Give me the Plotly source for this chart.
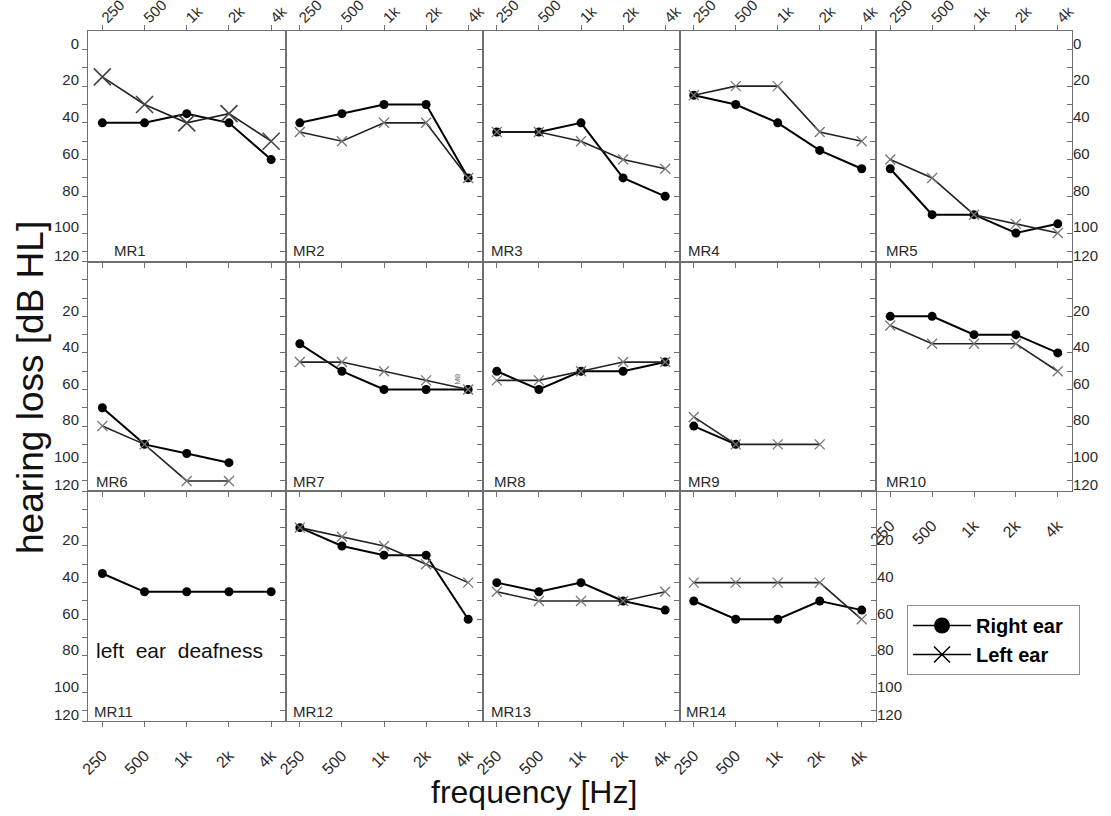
import plotly.graph_objects as go

# ---------------- data (dB HL) ----------------
freqs = ["250", "500", "1k", "2k", "4k"]
panel_names = ["MR1", "MR2", "MR3", "MR4", "MR5", "MR6", "MR7",
               "MR8", "MR9", "MR10", "MR11", "MR12", "MR13", "MR14"]

mr1_right = [40, 40, 35, 40, 60]
mr1_left = [15, 30, 40, 35, 50]
mr2_right = [40, 35, 30, 30, 70]
mr2_left = [45, 50, 40, 40, 70]
mr3_right = [45, 45, 40, 70, 80]
mr3_left = [45, 45, 50, 60, 65]
mr4_right = [25, 30, 40, 55, 65]
mr4_left = [25, 20, 20, 45, 50]
mr5_right = [65, 90, 90, 100, 95]
mr5_left = [60, 70, 90, 95, 100]
mr6_right = [70, 90, 95, 100, None]
mr6_left = [80, 90, 110, 110, None]
mr7_right = [35, 50, 60, 60, 60]
mr7_left = [45, 45, 50, 55, 60]
mr8_right = [50, 60, 50, 50, 45]
mr8_left = [55, 55, 50, 45, 45]
mr9_right = [80, 90, None, None, None]
mr9_left = [75, 90, 90, 90, None]
mr10_right = [20, 20, 30, 30, 40]
mr10_left = [25, 35, 35, 35, 50]
mr11_right = [35, 45, 45, 45, 45]
mr11_left = [None, None, None, None, None]   # left ear deafness
mr12_right = [10, 20, 25, 25, 60]
mr12_left = [10, 15, 20, 30, 40]
mr13_right = [40, 45, 40, 50, 55]
mr13_left = [45, 50, 50, 50, 45]
mr14_right = [50, 60, 60, 50, 55]
mr14_left = [40, 40, 40, 40, 60]

right_series = [mr1_right, mr2_right, mr3_right, mr4_right, mr5_right, mr6_right, mr7_right,
                mr8_right, mr9_right, mr10_right, mr11_right, mr12_right, mr13_right, mr14_right]
left_series = [mr1_left, mr2_left, mr3_left, mr4_left, mr5_left, mr6_left, mr7_left,
               mr8_left, mr9_left, mr10_left, mr11_left, mr12_left, mr13_left, mr14_left]

y_tick_vals = [0, 10, 20, 30, 40, 50, 60, 70, 80, 90, 100, 110, 115.5]
y_tick_text_top = ["0", "", "20", "", "40", "", "60", "", "80", "", "100", "", "120"]
y_tick_text_other = ["", "", "20", "", "40", "", "60", "", "80", "", "100", "", "120"]

# ---------------- layout geometry (pixels) ----------------
W, H = 1111, 816
XE = [88, 285.5, 482.5, 679.5, 876, 1072]
YE = [31, 261.5, 491, 721]
FONT = "Arial, Liberation Sans, sans-serif"
LC = "#707070"
TXT = "#2a2a2a"
label_xshift = [24, 5, 6, 6, 8, 6, 5, 9, 6, 8, 4, 5, 6, 4]


def ax_id(letter, n):
    return letter if n == 1 else f"{letter}{n}"


fig = go.Figure()
layout = {}
annotations = []
x_idx = list(range(len(freqs)))

for i, name in enumerate(panel_names):
    n = i + 1
    r, c = divmod(i, 5)
    xs = ax_id("x", n)
    ys = ax_id("y", n)
    big = (i == 0)
    fig.add_trace(go.Scatter(
        x=x_idx, y=right_series[i], xaxis=xs, yaxis=ys, mode="lines+markers",
        line=dict(color="#000000", width=2),
        marker=dict(symbol="circle", size=9, color="#000000"),
        showlegend=False, hoverinfo="skip"))
    fig.add_trace(go.Scatter(
        x=x_idx, y=left_series[i], xaxis=xs, yaxis=ys, mode="lines+markers",
        line=dict(color="#222222", width=1.6),
        marker=dict(symbol="x-thin", size=17 if big else 10,
                    line=dict(color="#444444" if big else "#777777", width=1.6 if big else 1.3)),
        showlegend=False, hoverinfo="skip"))

    xa = dict(domain=[XE[c] / W, XE[c + 1] / W], range=[-0.34, 4.34], anchor=ys,
              automargin=False,
              tickmode="array", tickvals=x_idx, ticktext=freqs, tickangle=-45,
              showline=True, linecolor=LC, linewidth=1, ticks="outside", ticklen=5,
              tickcolor=LC, showgrid=False, zeroline=False,
              tickfont=dict(family=FONT, size=16, color=TXT))
    if r == 0:
        xa.update(side="top", mirror="ticks", showticklabels=True, ticklabelstandoff=-7,
                  tickfont=dict(family=FONT, size=15, color=TXT))
    elif r == 1:
        xa.update(side="bottom", mirror=True, showticklabels=(c == 4), ticklabelstandoff=13)
    else:
        xa.update(side="bottom", mirror=True, showticklabels=True, ticklabelstandoff=13)

    ya = dict(domain=[1 - YE[r + 1] / H, 1 - YE[r] / H], range=[115.5, -10], anchor=xs,
              automargin=False,
              tickmode="array", tickvals=y_tick_vals,
              ticktext=y_tick_text_top if r == 0 else y_tick_text_other,
              ticks="outside", ticklen=5, tickcolor=LC, showline=True, mirror=True,
              linecolor=LC, linewidth=1, showgrid=False, zeroline=False,
              showticklabels=(c == 0), ticklabelshift=6,
              tickfont=dict(family=FONT, size=15, color=TXT))
    layout["xaxis" if n == 1 else f"xaxis{n}"] = xa
    layout["yaxis" if n == 1 else f"yaxis{n}"] = ya

    annotations.append(dict(text=name, xref=f"{xs} domain", yref=f"{ys} domain",
                            x=0, y=0, xanchor="left", yanchor="middle",
                            xshift=label_xshift[i], yshift=11 if r == 0 else 9.5,
                            showarrow=False, font=dict(family=FONT, size=15, color=TXT)))

# right-hand tick label axes (MR5, MR10, MR14)
for k, n in enumerate([5, 10, 14]):
    r = (n - 1) // 5
    yname = f"y{15 + k}"
    layout[f"yaxis{15 + k}"] = dict(
        overlaying=f"y{n}", anchor=f"x{n}", side="right", range=[115.5, -10],
        automargin=False,
        tickmode="array", tickvals=y_tick_vals,
        ticktext=y_tick_text_top if r == 0 else y_tick_text_other,
        ticks="inside", ticklen=5, tickcolor=LC, showline=False, showgrid=False,
        zeroline=False, ticklabelshift=6,
        tickfont=dict(family=FONT, size=15, color=TXT))
    # empty trace so that the overlaying axis is drawn
    fig.add_trace(go.Scatter(x=[None], y=[None], xaxis=f"x{n}", yaxis=yname,
                             mode="markers", showlegend=False, hoverinfo="skip"))

annotations.append(dict(text="left\u00a0\u00a0ear\u00a0\u00a0deafness", xref="x11 domain", yref="y11 domain",
                        x=0, y=0.305, xanchor="left", yanchor="middle", xshift=6,
                        showarrow=False, font=dict(family=FONT, size=21, color="#111111")))
annotations.append(dict(text="M8", xref="x7 domain", yref="y7 domain", x=0.905, y=0.49,
                        textangle=-90, showarrow=False,
                        font=dict(family=FONT, size=8, color="#666666")))
annotations.append(dict(text="hearing loss [dB HL]", xref="paper", yref="paper",
                        x=30 / W, y=1 - 388 / H, xanchor="center", yanchor="middle",
                        textangle=-90, showarrow=False,
                        font=dict(family=FONT, size=37, color="#111111")))
annotations.append(dict(text="frequency [Hz]", xref="paper", yref="paper",
                        x=534 / W, y=1 - 792 / H, xanchor="center", yanchor="middle",
                        showarrow=False,
                        font=dict(family=FONT, size=32, color="#111111")))

# legend-only traces
fig.add_trace(go.Scatter(x=[None], y=[None], mode="lines+markers",
                         name="<b>Right ear</b>\u00a0\u00a0",
                         line=dict(color="#000000", width=1.5),
                         marker=dict(symbol="circle", size=22, color="#000000")))
fig.add_trace(go.Scatter(x=[None], y=[None], mode="lines+markers",
                         name="<b>Left ear</b>\u00a0\u00a0",
                         line=dict(color="#000000", width=1.5),
                         marker=dict(symbol="x-thin", size=22, line=dict(color="#000000", width=1.5))))

fig.update_layout(
    width=W, height=H, margin=dict(l=0, r=0, t=0, b=0, autoexpand=False),
    paper_bgcolor="white", plot_bgcolor="white",
    font=dict(family=FONT, color=TXT),
    annotations=annotations,
    legend=dict(x=907 / W, y=1 - 605 / H, xanchor="left", yanchor="top",
                bordercolor="#909090", borderwidth=1, bgcolor="white",
                font=dict(family=FONT, size=20, color="#000000"),
                itemsizing="trace", itemwidth=58, tracegroupgap=2),
    **layout,
)

fig.write_html("out.html", config={"displayModeBar": False},
               post_script="document.body.style.margin='0px';")
